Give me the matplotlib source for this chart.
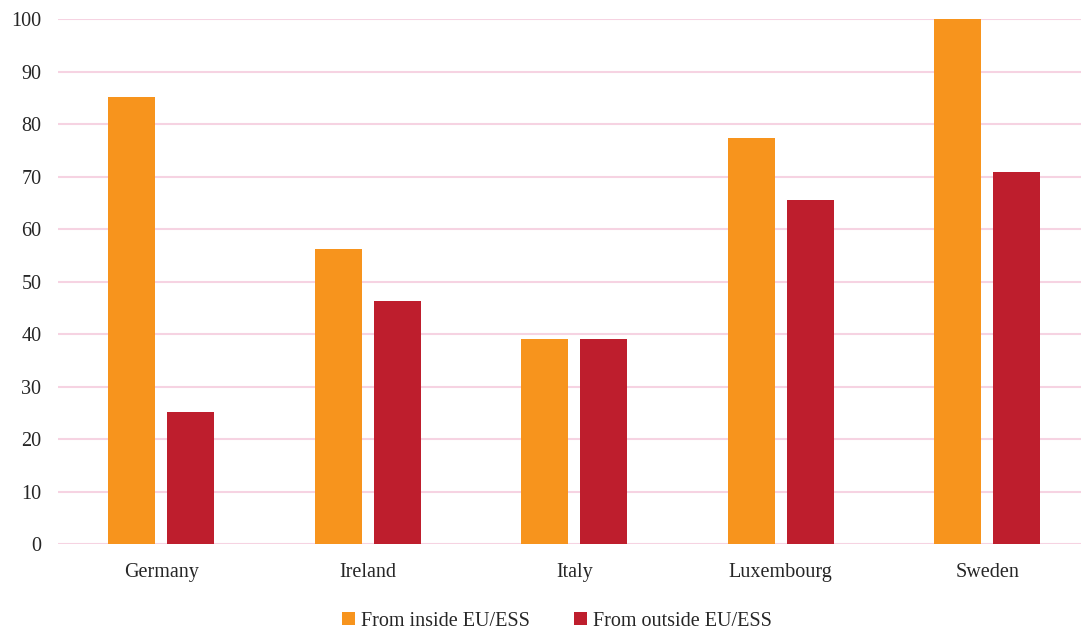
import matplotlib
matplotlib.use("Agg")
import matplotlib.pyplot as plt
import numpy as np

countries = ['Germany', 'Ireland', 'Italy', 'Luxembourg', 'Sweden']
inside = [85.2, 56.2, 39.1, 77.4, 100.0]
outside = [25.2, 46.2, 39.1, 65.6, 70.8]
series_names = ['From inside EU/ESS', 'From outside EU/ESS']
colors = ['#F7941D', '#BE1E2D']

plt.rcParams.update({
    "font.family": ["Liberation Serif", "DejaVu Serif"],
    "font.size": 14.5,
    "text.color": "#262626",
    "xtick.color": "#262626",
    "ytick.color": "#262626",
})

fig = plt.figure(figsize=(10.81, 6.30), dpi=100)
ax = fig.add_axes([0.0537, 0.1365, 0.9463, 0.8333])

x = np.arange(len(countries))
w = 0.228
off = 0.143
ax.bar(x - off, inside, w, color=colors[0], label=series_names[0], zorder=3)
ax.bar(x + off, outside, w, color=colors[1], label=series_names[1], zorder=3)

ax.set_xlim(-0.5, 4.454)
ax.set_ylim(0, 100)
ax.set_yticks(range(0, 101, 10))
ax.set_xticks(x)
ax.set_xticklabels(countries)
ax.yaxis.grid(True, color='#F6D3E2', lw=1.5, zorder=0)
ax.set_axisbelow(True)
for s in ax.spines.values():
    s.set_visible(False)
ax.tick_params(axis='both', length=0)
ax.tick_params(axis='x', pad=14)
ax.tick_params(axis='y', pad=12)

fig.legend(loc='lower center', bbox_to_anchor=(0.515, -0.03), ncol=2, frameon=False,
           handlelength=0.65, handleheight=0.65, handletextpad=0.3, columnspacing=2.2)

fig.savefig('out.png', dpi=100)
